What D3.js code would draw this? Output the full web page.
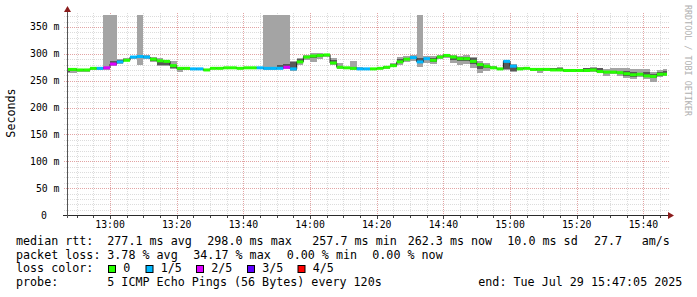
<!DOCTYPE html>
<html lang="en">

<head>
    <meta charset="UTF-8">
    <script src="https://d3js.org/d3.v7.min.js"></script>
    <title>smokeping</title>
    <style>
        body {
            margin: 0;
            padding: 0;
            background-color: #fff;
        }

        text {
            font-family: "DejaVu Sans Mono", monospace;
            fill: #000;
        }

        .lgd {
            font-size: 11.7px;
            white-space: pre;
        }

        .tick-lbl {
            font-size: 9.8px;
        }
    </style>
</head>

<body>
    <div id="sbx"></div>

    <script>
        // 2 minute steps, each value is the END of the step (first one 12:48, last 15:48)
        let startMin = 12 * 60 + 48
        let stepMin = 2

        let median = [271, 271, 270, 270, 273, 273, 274, 281, 285, 288,
            294, 295, 294, 290, 287, 286, 278, 273, 273, 272,
            272, 270, 273, 273, 274, 274, 273, 274, 274, 274,
            273, 273, 273, 275, 272, 285, 294, 296, 297, 298,
            283, 275, 274, 273, 272, 272, 272, 273, 275, 278,
            285, 290, 293, 285, 291, 288, 294, 297, 294, 291,
            291, 286, 280, 277, 274, 272, 286, 277, 272, 273,
            271, 271, 271, 270, 270, 269, 269, 269, 269, 270,
            267, 266, 266, 265, 263, 261, 262, 259, 258, 262,
            262]

        // lost pings out of 5
        let loss = [0, 0, 0, 0, 0, 1, 2, 2, 1, 0,
            1, 1, 1, 0, 0, 0, 0, 0, 0, 1,
            1, 0, 0, 0, 0, 0, 0, 0, 0, 1,
            1, 1, 1, 2, 1, 0, 0, 0, 0, 0,
            0, 0, 0, 0, 1, 1, 0, 0, 0, 0,
            0, 0, 1, 1, 1, 0, 0, 0, 0, 0,
            0, 0, 0, 0, 0, 0, 1, 1, 0, 0,
            0, 0, 0, 0, 0, 0, 0, 0, 0, 0,
            0, 0, 0, 0, 0, 0, 0, 0, 0, 0,
            0]

        // sorted pings: 1st, 2nd, 4th, 5th  (null = lost -> goes to the top)
        let ping1 = [264, 265, 266, 267, 270, 270, 270, 277, 282, 286,
            291, 279, 290, 285, 277, 277, 271, 267, 269, 270,
            269, 268, 271, 271, 272, 272, 271, 272, 272, 271,
            270, 270, 271, 271, 268, 279, 288, 285, 290, 294,
            279, 272, 272, 270, 270, 269, 270, 271, 272, 275,
            280, 285, 287, 276, 283, 282, 290, 292, 283, 280,
            281, 274, 265, 268, 271, 270, 270, 266, 269, 271,
            268, 265, 268, 268, 268, 267, 266, 266, 266, 267,
            264, 258, 263, 258, 255, 253, 256, 254, 248, 257,
            258]
        let ping2 = [267, 268, 269, 269, 272, 272, 272, 279, 284, 287,
            293, 293, 292, 287, 279, 279, 273, 270, 271, 271,
            271, 269, 272, 272, 273, 273, 272, 273, 273, 273,
            272, 272, 272, 273, 270, 283, 292, 292, 295, 296,
            281, 274, 273, 272, 271, 271, 271, 272, 274, 277,
            283, 288, 290, 283, 288, 285, 292, 295, 289, 286,
            287, 281, 272, 273, 273, 271, 272, 268, 271, 272,
            270, 269, 270, 269, 269, 268, 268, 268, 267, 269,
            266, 264, 265, 263, 259, 257, 260, 257, 255, 259,
            260]
        let ping4 = [272, 272, 271, 271, 274, 274, 276, 287, 288, 290,
            295, 296, 296, 292, 288, 287, 280, 274, 274, 273,
            273, 271, 274, 274, 275, 275, 274, 275, 275, 275,
            274, 274, 280, 282, 284, 290, 296, 298, 299, 299,
            288, 277, 275, 276, 273, 273, 273, 274, 276, 281,
            290, 292, 295, 292, 293, 293, 296, 298, 296, 294,
            295, 292, 283, 280, 276, 273, 287, 279, 273, 274,
            272, 272, 272, 273, 274, 270, 270, 270, 273, 274,
            273, 267, 268, 267, 268, 266, 265, 266, 262, 267,
            268]
        let ping5 = [274, 273, 272, 272, 275, 275, null, null, 290, 292,
            296, null, 298, 294, 292, 289, 286, 276, 275, 274,
            274, 272, 275, 275, 276, 276, 275, 276, 276, 276,
            null, null, null, null, 286, 292, 298, 301, 301, 300,
            293, 283, 276, 286, 275, 274, 274, 275, 278, 283,
            294, 296, 297, null, 296, 296, 298, 300, 298, 296,
            297, 294, 287, 283, 277, 274, 288, 281, 275, 275,
            273, 273, 273, 274, 275, 271, 272, 271, 274, 275,
            274, 272, 273, 273, 273, 272, 271, 272, 266, 270,
            271]

        let lossColors = ["#26ff00", "#00b8ff", "#dd00ff", "#5e00ff", "#ff0000"]
        let lossNames = ["0", "1/5", "2/5", "3/5", "4/5"]

        let yTicks = [0, 50, 100, 150, 200, 250, 300, 350]

        let cfg = {
            width: 697,
            height: 297,
            left: 67,
            right: 667,
            top: 15,
            bottom: 215,
            ymax: 372.3
        }

        function tdate(min) {
            return new Date(Date.UTC(2025, 6, 29, 0, 0, 0) + min * 60000)
        }

        let xxscal = d3.scaleUtc()
            .domain([tdate(12 * 60 + 47 + 5 / 60), tdate(15 * 60 + 47 + 5 / 60)])
            .range([cfg.left, cfg.right])
        let yyscal = d3.scaleLinear().domain([0, cfg.ymax]).range([cfg.bottom, cfg.top])

        let svg = d3.select("#sbx").append("svg")
            .attr("width", cfg.width)
            .attr("height", cfg.height)

        svg.append("defs").append("clipPath").attr("id", "plotclip")
            .append("rect")
            .attr("x", cfg.left).attr("y", cfg.top)
            .attr("width", cfg.right - cfg.left).attr("height", cfg.bottom - cfg.top)

        // grid
        let grid = svg.append("g")
        let minorY = d3.range(10, cfg.ymax, 10)
        grid.selectAll(".hg").data(minorY).enter().append("line")
            .attr("x1", cfg.left - 3).attr("x2", cfg.right + 2)
            .attr("y1", d => Math.round(yyscal(d)) + 0.5).attr("y2", d => Math.round(yyscal(d)) + 0.5)
            .attr("stroke", d => d % 50 == 0 ? "#e2a4a4" : "#dcdcdc")
            .attr("stroke-dasharray", "1,1")

        let minorX = xxscal.ticks(d3.utcMinute.every(5))
        grid.selectAll(".vg").data(minorX).enter().append("line")
            .attr("y1", cfg.top - 2).attr("y2", cfg.bottom + 2)
            .attr("x1", d => Math.round(xxscal(d)) + 0.5).attr("x2", d => Math.round(xxscal(d)) + 0.5)
            .attr("stroke", d => d.getUTCMinutes() % 20 == 0 ? "#e2a4a4" : "#dcdcdc")
            .attr("stroke-dasharray", "1,1")

        // the smoke, the median and the loss colour
        let rows = median.map((m, i) => {
            let tEnd = startMin + i * stepMin
            return {
                x0: xxscal(tdate(tEnd - stepMin)),
                x1: xxscal(tdate(tEnd)),
                med: m,
                loss: loss[i],
                p1: ping1[i], p2: ping2[i], p4: ping4[i], p5: ping5[i]
            }
        })

        let plot = svg.append("g").attr("clip-path", "url(#plotclip)")

        plot.selectAll(".smk1").data(rows).enter().append("rect")
            .attr("x", d => d.x0).attr("width", d => d.x1 - d.x0)
            .attr("y", d => d.p5 == null ? cfg.top : yyscal(d.p5))
            .attr("height", d => yyscal(d.p1) - (d.p5 == null ? cfg.top : yyscal(d.p5)))
            .attr("fill", "#a4a4a4")
            .attr("shape-rendering", "crispEdges")

        plot.selectAll(".smk2").data(rows).enter().append("rect")
            .attr("x", d => d.x0).attr("width", d => d.x1 - d.x0)
            .attr("y", d => yyscal(d.p4))
            .attr("height", d => yyscal(d.p2) - yyscal(d.p4))
            .attr("fill", "#585858")
            .attr("shape-rendering", "crispEdges")

        let steps = []
        rows.forEach(d => {
            steps.push([d.x0, d.med])
            steps.push([d.x1, d.med])
        })
        let medline = d3.line().x(d => d[0]).y(d => yyscal(d[1]))
        plot.append("path").attr("d", medline(steps))
            .attr("fill", "none").attr("stroke", "#202020").attr("stroke-width", 1)

        plot.selectAll(".lc").data(rows).enter().append("rect")
            .attr("x", d => d.x0).attr("width", d => d.x1 - d.x0)
            .attr("y", d => yyscal(d.med) - 1.5)
            .attr("height", 3)
            .attr("fill", d => lossColors[d.loss])

        // axes
        svg.append("line")
            .attr("x1", cfg.left - 4).attr("x2", cfg.right + 2)
            .attr("y1", cfg.bottom + 0.5).attr("y2", cfg.bottom + 0.5)
            .attr("stroke", "#2a2a2a")
        svg.append("line")
            .attr("x1", cfg.left + 0.5).attr("x2", cfg.left + 0.5)
            .attr("y1", cfg.bottom + 3).attr("y2", cfg.top - 4)
            .attr("stroke", "#555")
        svg.append("path")
            .attr("d", `M${cfg.right + 1},${cfg.bottom - 3} L${cfg.right + 7},${cfg.bottom + 0.5} L${cfg.right + 1},${cfg.bottom + 4} Z`)
            .attr("fill", "#8b1c1c")
        svg.append("path")
            .attr("d", `M${cfg.left - 3},${cfg.top - 3} L${cfg.left + 0.5},${cfg.top - 9} L${cfg.left + 4},${cfg.top - 3} Z`)
            .attr("fill", "#8b1c1c")

        svg.selectAll(".xtk").data(minorX).enter().append("line")
            .attr("x1", d => Math.round(xxscal(d)) + 0.5).attr("x2", d => Math.round(xxscal(d)) + 0.5)
            .attr("y1", cfg.bottom + 1).attr("y2", d => cfg.bottom + (d.getUTCMinutes() % 20 == 0 ? 4 : 3))
            .attr("stroke", "#444")

        let xLabels = xxscal.ticks(d3.utcMinute.every(20))
        svg.selectAll(".xl").data(xLabels).enter().append("text")
            .attr("class", "tick-lbl")
            .attr("x", d => xxscal(d)).attr("y", 228)
            .attr("text-anchor", "middle")
            .text(d => d3.utcFormat("%H:%M")(d))

        svg.selectAll(".yl").data(yTicks).enter().append("text")
            .attr("class", "tick-lbl")
            .attr("x", d => d == 0 ? 47 : 59.5).attr("y", d => yyscal(d) + 3.5)
            .attr("text-anchor", "end")
            .text(d => d == 0 ? "0" : d + " m")

        svg.append("text").attr("class", "lgd")
            .attr("transform", "translate(14.5,113) rotate(-90)")
            .attr("text-anchor", "middle")
            .text("Seconds")

        svg.append("text")
            .attr("transform", "translate(685,5) rotate(90)")
            .attr("font-size", "8.4px")
            .style("fill", "#b0b0b0")
            .text("RRDTOOL / TOBI OETIKER")

        // legend
        let lgd = svg.append("g")
        function lt(x, y, s) {
            lgd.append("text").attr("class", "lgd").attr("x", x).attr("y", y).text(s)
        }
        lt(16, 245, "median rtt:")
        lt(107.3, 245, "277.1 ms avg")
        lt(207.3, 245, "298.0 ms max")
        lt(312.3, 245, "257.7 ms min")
        lt(407.7, 245, "262.3 ms now")
        lt(507.3, 245, "10.0 ms sd")
        lt(594, 245, "27.7")
        lt(641.7, 245, "am/s")

        lt(16, 258.7, "packet loss:")
        lt(107.3, 258.7, "3.78 % avg")
        lt(193.3, 258.7, "34.17 % max")
        lt(286.7, 258.7, "0.00 % min")
        lt(372.3, 258.7, "0.00 % now")

        lt(16, 272.4, "loss color:")
        let boxX = [108.5, 146, 196.5, 247.5, 298]
        lossNames.forEach((n, i) => {
            lgd.append("rect")
                .attr("x", boxX[i]).attr("y", 265.5)
                .attr("width", 7).attr("height", 7)
                .attr("fill", lossColors[i]).attr("stroke", "#000").attr("stroke-width", 1)
            lt(boxX[i] + 14.8, 272.4, n)
        })

        lt(16, 286.1, "probe:")
        lt(107.3, 286.1, "5 ICMP Echo Pings (56 Bytes) every 120s")
        lt(478.3, 286.1, "end: Tue Jul 29 15:47:05 2025")
    </script>
</body>

</html>
